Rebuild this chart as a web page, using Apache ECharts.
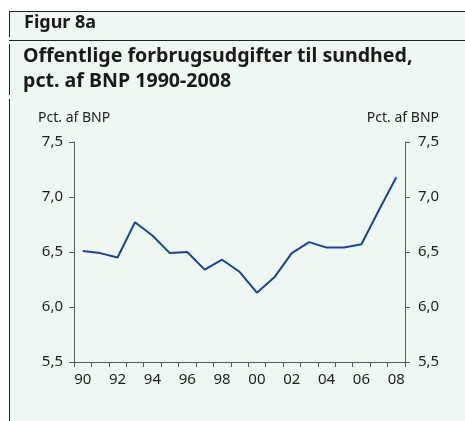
<!DOCTYPE html>
<html><head><meta charset="utf-8">
<script src="https://cdn.jsdelivr.net/npm/echarts@6/dist/echarts.min.js"></script>
<style>html,body{margin:0;padding:0;background:#fff}#c{width:465px;height:421px}</style>
</head><body><div id="c"></div>
<script>
const years = ['1990','1991','1992','1993','1994','1995','1996','1997','1998','1999','2000','2001','2002','2003','2004','2005','2006','2007','2008'];
const values = [6.51,6.49,6.45,6.77,6.65,6.49,6.50,6.34,6.43,6.32,6.13,6.27,6.49,6.59,6.54,6.54,6.57,6.88,7.18];
const yTicks = [5.5,6.0,6.5,7.0,7.5];
const figLabel = 'Figur 8a';
const titleLines = ['Offentlige forbrugsudgifter til sundhed,','pct. af BNP 1990-2008'];
const unitLabel = 'Pct. af BNP';

const chart = echarts.init(document.getElementById('c'));
const fmt = v => v.toFixed(1).replace('.', ',');
const axisCol = '#5a5a5a';
const txtCol = '#1e1e1e';
const font = 'Noto Sans';
const yAxisBase = {
  type:'value', min:yTicks[0], max:yTicks[yTicks.length-1], interval:0.5,
  axisLine:{show:true,lineStyle:{color:axisCol,width:1}},
  axisTick:{show:true,length:5,lineStyle:{color:axisCol}},
  splitLine:{show:false},
  axisLabel:{formatter:fmt,color:txtCol,fontSize:15,fontFamily:font},
  name:unitLabel, nameGap:17,
  nameTextStyle:{color:txtCol,fontSize:14,fontFamily:font}
};
chart.setOption({
  backgroundColor:'#fff',
  animation:false,
  graphic:[
    {type:'rect',shape:{x:9,y:11,width:456,height:410},style:{fill:'#eef7f2'},z:-10},
    {type:'line',shape:{x1:9,y1:11.5,x2:465,y2:11.5},style:{stroke:'#222',lineWidth:1}},
    {type:'line',shape:{x1:9,y1:40.5,x2:465,y2:40.5},style:{stroke:'#222',lineWidth:1}},
    {type:'line',shape:{x1:9.5,y1:11,x2:9.5,y2:37},style:{stroke:'#222',lineWidth:1}},
    {type:'line',shape:{x1:9.5,y1:44,x2:9.5,y2:95},style:{stroke:'#222',lineWidth:1}},
    {type:'line',shape:{x1:9.5,y1:99,x2:9.5,y2:421},style:{stroke:'#222',lineWidth:1}},
    {type:'text',left:24,top:14,style:{text:figLabel,fontSize:18,fontWeight:'bold',fill:'#1a1a1a',fontFamily:font}},
    {type:'text',left:23,top:44,style:{text:titleLines.join('\n'),fontSize:19.6,lineHeight:25,fontWeight:'bold',fill:'#1a1a1a',fontFamily:font}}
  ],
  grid:{left:74,right:60,top:142,bottom:59},
  xAxis:{
    type:'category', data:years, boundaryGap:true,
    axisLine:{lineStyle:{color:axisCol,width:1}},
    axisTick:{show:true,length:5,interval:0,lineStyle:{color:axisCol}},
    axisLabel:{interval:1,margin:10,color:txtCol,fontSize:15,fontFamily:font,formatter:v=>v.slice(2)}
  },
  yAxis:[
    Object.assign({},yAxisBase,{position:'left',nameLocation:'end',nameTextStyle:Object.assign({},yAxisBase.nameTextStyle,{align:'left',padding:[0,0,0,-36]}),axisLabel:Object.assign({},yAxisBase.axisLabel,{margin:11})}),
    Object.assign({},yAxisBase,{position:'right',nameLocation:'end',nameTextStyle:Object.assign({},yAxisBase.nameTextStyle,{align:'right',padding:[0,-34,0,0]}),axisLabel:Object.assign({},yAxisBase.axisLabel,{margin:13})})
  ],
  series:[{type:'line',data:values,yAxisIndex:0,symbol:'none',lineStyle:{color:'#11489a',width:2},itemStyle:{color:'#11489a'}}]
});
</script></body></html>
